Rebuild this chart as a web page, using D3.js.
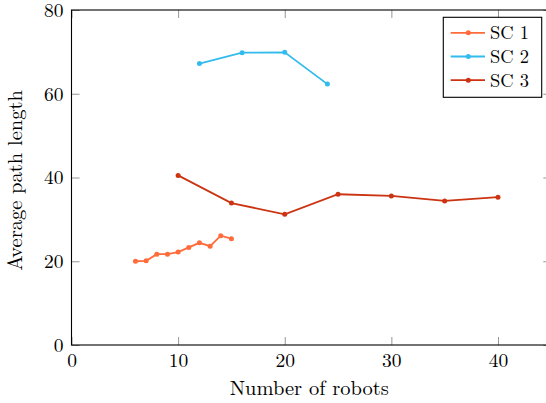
<!DOCTYPE html>
<html>
<head>
<meta charset="utf-8">
<script src="https://cdn.jsdelivr.net/npm/d3@7"></script>
<style>
  body { margin: 0; background: #fff; }
  text { font-family: "Latin Modern Roman", "CMU Serif", "Liberation Serif", serif; }
</style>
</head>
<body>
<div id="chart-area"></div>
<script>
// data
const sc1X = [6, 7, 8, 9, 10, 11, 12, 13, 14, 15]
const sc1Y = [20.0, 20.1, 21.7, 21.7, 22.2, 23.3, 24.4, 23.6, 26.1, 25.4]
const sc2X = [12, 16, 20, 24]
const sc2Y = [67.2, 69.8, 69.9, 62.3]
const sc3X = [10, 15, 20, 25, 30, 35, 40]
const sc3Y = [40.5, 33.9, 31.2, 36.0, 35.6, 34.4, 35.3]
const seriesNames = ["SC 1", "SC 2", "SC 3"]
const seriesColors = ["#ff6b3b", "#33bbee", "#cc3311"]
const xTicks = [0, 10, 20, 30, 40]
const yTicks = [0, 20, 40, 60, 80]

// canvas and margin sizes
const MARGIN = { LEFT: 71.5, TOP: 10 }
const WIDTH = 479.8
const HEIGHT = 335

const svg = d3.select("#chart-area").append("svg")
  .attr("width", 546)
  .attr("height", 403)

const g = svg.append("g")
  .attr("transform", `translate(${MARGIN.LEFT}, ${MARGIN.TOP})`)

const x = d3.scaleLinear().domain([0, 45]).range([0, WIDTH])
const y = d3.scaleLinear().domain([0, 80]).range([HEIGHT, 0])

// ticks point inward on all four sides, like pgfplots
const TICK = 8
function styleAxis(sel, labels) {
  sel.select(".domain").remove()
  sel.selectAll(".tick line").attr("stroke", "#8a8a8a").attr("stroke-width", 0.9)
  if (labels) {
    sel.selectAll(".tick text")
      .attr("font-size", "19.5px")
      .attr("fill", "#000")
  } else {
    sel.selectAll(".tick text").remove()
  }
}

g.append("g")
  .attr("transform", `translate(0, ${HEIGHT})`)
  .call(d3.axisBottom(x).tickValues(xTicks).tickSizeInner(-TICK).tickSizeOuter(0).tickPadding(8))
  .call(s => styleAxis(s, true))

g.append("g")
  .call(d3.axisTop(x).tickValues(xTicks).tickSizeInner(-TICK).tickSizeOuter(0))
  .call(s => styleAxis(s, false))

g.append("g")
  .call(d3.axisLeft(y).tickValues(yTicks).tickSizeInner(-TICK).tickSizeOuter(0).tickPadding(8))
  .call(s => styleAxis(s, true))

g.append("g")
  .attr("transform", `translate(${WIDTH}, 0)`)
  .call(d3.axisRight(y).tickValues(yTicks).tickSizeInner(-TICK).tickSizeOuter(0))
  .call(s => styleAxis(s, false))

// frame
g.append("rect")
  .attr("width", WIDTH)
  .attr("height", HEIGHT)
  .attr("fill", "none")
  .attr("stroke", "#000")
  .attr("stroke-width", 1.1)

// axis labels
g.append("text")
  .attr("x", x(22.3))
  .attr("y", HEIGHT + 50)
  .attr("font-size", "20.5px")
  .attr("text-anchor", "middle")
  .text("Number of robots")

g.append("text")
  .attr("x", -(HEIGHT / 2) - 3)
  .attr("y", -49.5)
  .attr("font-size", "20.5px")
  .attr("text-anchor", "middle")
  .attr("transform", "rotate(-90)")
  .text("Average path length")

// series
const series = [
  { name: seriesNames[0], color: seriesColors[0], pts: sc1X.map((d, i) => [d, sc1Y[i]]) },
  { name: seriesNames[1], color: seriesColors[1], pts: sc2X.map((d, i) => [d, sc2Y[i]]) },
  { name: seriesNames[2], color: seriesColors[2], pts: sc3X.map((d, i) => [d, sc3Y[i]]) }
]

const line = d3.line().x(d => x(d[0])).y(d => y(d[1]))

series.forEach(s => {
  g.append("path")
    .datum(s.pts)
    .attr("fill", "none")
    .attr("stroke", s.color)
    .attr("stroke-width", 1.8)
    .attr("d", line)

  g.selectAll(null)
    .data(s.pts)
    .enter().append("circle")
    .attr("cx", d => x(d[0]))
    .attr("cy", d => y(d[1]))
    .attr("r", 2.5)
    .attr("fill", s.color)
})

// legend (north east, inset like pgfplots)
const legend = svg.append("g")
  .attr("transform", "translate(443.3, 17.3)")

legend.append("rect")
  .attr("width", 98.4)
  .attr("height", 80)
  .attr("fill", "#fff")
  .attr("stroke", "#000")
  .attr("stroke-width", 1.1)

series.forEach((s, i) => {
  const row = legend.append("g").attr("transform", `translate(0, ${15.5 + i * 23.7})`)
  row.append("line")
    .attr("x1", 7.4).attr("x2", 41.7)
    .attr("stroke", s.color)
    .attr("stroke-width", 1.8)
  row.append("circle")
    .attr("cx", 25).attr("r", 2.5)
    .attr("fill", s.color)
  row.append("text")
    .attr("x", 46.7)
    .attr("y", 6.3)
    .attr("font-size", "18.5px")
    .text(s.name)
})
</script>
</body>
</html>
